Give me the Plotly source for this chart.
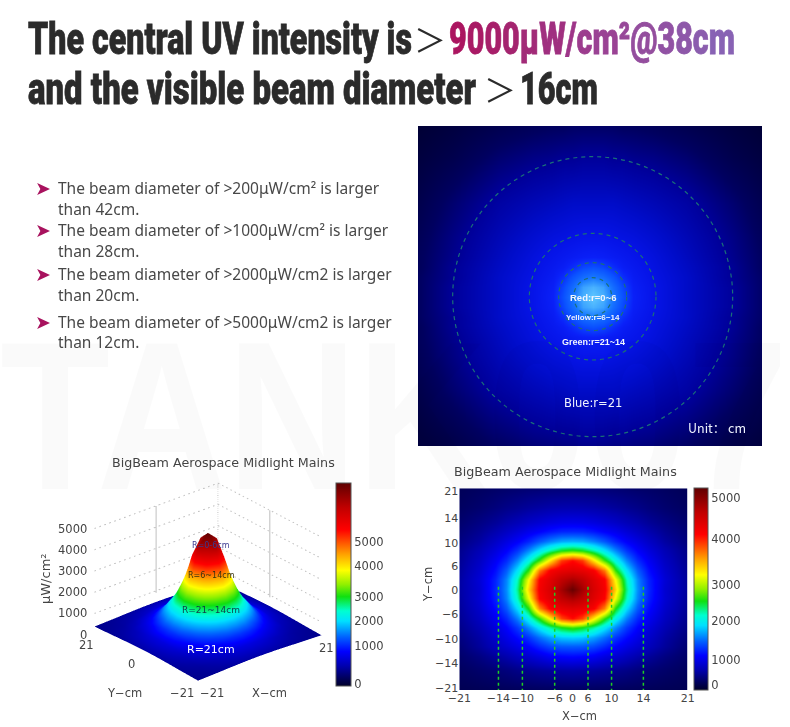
import numpy as np
import plotly.graph_objects as go

W, H = 790, 727
FONT = "DejaVu Sans"
BODY = "Noto Sans"
HEAD = "Roboto"
DARK = "#2b2b2b"

# ---------- text ----------
WATERMARK = "TANK007"
TITLE_1 = "The central UV intensity is"
TITLE_HI = "9000μW/cm²@38cm"
TITLE_2 = "and the visible beam diameter"
TITLE_3 = "16cm"
BULLETS = [
    ("The beam diameter of >200μW/cm² is larger", "than 42cm.", 188, 209),
    ("The beam diameter of >1000μW/cm² is larger", "than 28cm.", 230, 251),
    ("The beam diameter of >2000μW/cm2 is larger", "than 20cm.", 274, 295),
    ("The beam diameter of >5000μW/cm2 is larger", "than 12cm.", 322, 342),
]
CHART_TITLE = "BigBeam Aerospace Midlight Mains"

COLORS_JET = [[0, "#00002a"], [.03, "#000050"], [.1, "#0000b0"], [.17, "#0000ff"], [.24, "#0060ff"],
              [.32, "#00e0ff"], [.37, "#00ffd0"], [.44, "#10e010"], [.5, "#90f000"], [.57, "#ffff00"],
              [.65, "#ffa000"], [.77, "#ff0000"], [.88, "#c00000"], [1, "#600000"]]

# ---------- 2-D map (bottom right) ----------
MAP_HALF_X = [0, 2, 4, 6, 8, 10, 12, 14, 17, 21]
MAP_CENTRE_X = -0.3
MAP_Y = [21, 17, 14, 12, 10, 8, 6, 4, 2, 0, -2, -4, -6, -8, -10, -12, -14, -17, -21]
# one row per MAP_Y value, read outward from the beam centre along MAP_HALF_X
MAP_ROWS = [
    [320, 318, 315, 305, 295, 280, 265, 250, 225, 190],
    [530, 525, 510, 480, 450, 410, 375, 330, 275, 220],
    [800, 790, 750, 695, 640, 570, 510, 440, 360, 265],
    [1050, 1040, 980, 890, 810, 710, 620, 530, 415, 300],
    [1550, 1520, 1400, 1240, 1040, 880, 760, 640, 480, 335],
    [2400, 2300, 2050, 1730, 1400, 1100, 890, 740, 560, 380],
    [4050, 3850, 3150, 2430, 1860, 1400, 1060, 850, 620, 405],
    [4350, 4290, 4150, 3600, 2400, 1730, 1260, 950, 670, 430],
    [4800, 4650, 4370, 4120, 3000, 2000, 1400, 1030, 710, 450],
    [5250, 4850, 4450, 4180, 3200, 2100, 1430, 1050, 690, 460],
    [4800, 4650, 4370, 4100, 2950, 2000, 1390, 1020, 700, 445],
    [4350, 4290, 4130, 3550, 2350, 1700, 1240, 940, 660, 425],
    [4050, 3800, 3100, 2400, 1830, 1380, 1050, 840, 610, 400],
    [2450, 2330, 2080, 1750, 1420, 1120, 900, 740, 550, 370],
    [1650, 1620, 1500, 1320, 1100, 930, 790, 660, 490, 330],
    [1250, 1240, 1180, 1050, 900, 780, 680, 590, 450, 290],
    [920, 900, 850, 760, 680, 600, 520, 450, 350, 250],
    [480, 470, 450, 430, 400, 370, 330, 300, 260, 210],
    [220, 220, 215, 210, 205, 200, 195, 190, 180, 170],
]
MAP_XTICKS = [-21, -13.8, -9.4, -3.46, -0.2, 2.67, 7, 12.85, 21]
MAP_XLABELS = ["−21", "−14", "−10", "−6", "0", "6", "10", "14", "21"]
MAP_YTICKS = [20.4, 14.8, 9.5, 4.8, -0.2, -5.2, -10.4, -15.5, -20.7]
MAP_YLABELS = ["21", "14", "10", "6", "0", "−6", "−10", "−14", "−21"]
MAP_GUIDES = [-13.8, -9.4, -3.46, 2.67, 7, 12.85]
MAP_BAR_TICKS = [132, 790, 1823, 2761, 3960, 5036]
BAR_LABELS = ["0", "1000", "2000", "3000", "4000", "5000"]

# ---------- 3-D surface (bottom left) ----------
SURF_NODES = [0, 3, 5, 7, 9, 11, 13, 16, 21]
SURF_QUADRANT = [
    [5000, 4600, 3550, 2550, 1850, 1450, 1050, 720, 480],
    [4600, 3900, 3000, 2300, 1750, 1380, 1000, 700, 475],
    [3550, 3000, 2520, 1980, 1600, 1220, 920, 670, 470],
    [2550, 2300, 1980, 1670, 1380, 1050, 820, 630, 460],
    [1850, 1750, 1600, 1380, 1110, 880, 740, 580, 450],
    [1450, 1380, 1220, 1050, 880, 760, 670, 540, 440],
    [1050, 1000, 920, 820, 740, 670, 580, 500, 425],
    [720, 700, 670, 630, 580, 540, 500, 450, 410],
    [480, 475, 470, 460, 450, 440, 425, 410, 385],
]
SURF_BAR_TICKS = [40, 985, 1600, 2200, 2950, 3550]
Z_LEVELS = [1000, 2000, 3000, 4000, 5000]

# ---------- beam picture (top right) ----------
BEAM_NODES = [0, 1.5, 3, 4.5, 6, 9, 14, 21, 26]
BEAM_QUADRANT = [
    [100, 93, 75, 58, 44, 36, 28, 18, 10],
    [93, 88, 70, 55, 43, 36, 28, 18, 10],
    [75, 70, 60, 48, 41, 35, 28, 17, 10],
    [58, 55, 48, 42, 39, 34, 27, 17, 9],
    [44, 43, 41, 39, 37, 33, 26, 16, 9],
    [36, 36, 35, 34, 33, 30, 24, 15, 8],
    [28, 28, 28, 27, 26, 24, 20, 12, 6],
    [18, 18, 17, 17, 16, 15, 12, 6, 3],
    [10, 10, 10, 9, 9, 8, 6, 3, 1],
]
BEAM_COLORS = [[0, "#000030"], [.1, "#000060"], [.18, "#00009a"], [.28, "#000cc8"], [.36, "#0614e8"],
               [.44, "#0a20f8"], [.58, "#0a50ff"], [.75, "#1878ff"], [.9, "#40a8ff"], [1, "#60c8ff"]]
RING_RADII = [21, 9.5, 5.1, 2.85]
BEAM_LABELS = [("Red:r=0~6", 593, 297, 9.5), ("Yellow:r=6~14", 593, 317, 8),
               ("Green:r=21~14", 593, 342, 9), ("Blue:r=21", 593, 403, 11.5)]


def mirror(nodes, quad):
    q = np.array(quad)
    full = np.vstack([q[:0:-1], q])
    full = np.hstack([full[:, :0:-1], full])
    axis = [-v for v in nodes[:0:-1]] + list(nodes)
    return axis, full


def pos(px, py):
    return dict(x=px / W, y=1 - py / H, xref="paper", yref="paper")


def note(text, px, py, size=12, color="#444", font=FONT, xanchor="center", weight=None, **kw):
    f = dict(size=size, color=color, family=font)
    if weight:
        f["weight"] = weight
    return dict(text=text, showarrow=False, xanchor=xanchor, yanchor="middle", font=f, **pos(px, py), **kw)


fig = go.Figure()

bx, bz = mirror(BEAM_NODES, BEAM_QUADRANT)
fig.add_trace(go.Heatmap(x=bx, y=bx, z=bz, zmin=0, zmax=100, colorscale=BEAM_COLORS, zsmooth="best",
                         showscale=False, hoverinfo="skip", xaxis="x3", yaxis="y3"))

map_x = [MAP_CENTRE_X - v for v in MAP_HALF_X[:0:-1]] + [MAP_CENTRE_X + v for v in MAP_HALF_X]
map_z = [row[:0:-1] + row for row in MAP_ROWS]
fig.add_trace(go.Heatmap(x=map_x, y=MAP_Y, z=map_z, zmin=0, zmax=5300, colorscale=COLORS_JET, zsmooth="best",
                         hoverinfo="skip", xaxis="x2", yaxis="y2",
                         colorbar=dict(x=694 / W, xanchor="left", xpad=0, ypad=0, y=1 - 690 / H, yanchor="bottom",
                                       len=202 / H, thickness=14, outlinecolor="#555", outlinewidth=1,
                                       tickvals=MAP_BAR_TICKS, ticktext=BAR_LABELS, ticks="",
                                       tickfont=dict(size=11.5, color="#444", family=FONT))))
for gx in MAP_GUIDES:
    fig.add_trace(go.Scatter(x=[gx, gx], y=[0.5, -21], mode="lines", hoverinfo="skip", showlegend=False,
                             line=dict(color="#20d020", width=1.5, dash="dot"), xaxis="x2", yaxis="y2"))

sx, sz = mirror(SURF_NODES, SURF_QUADRANT)
fig.add_trace(go.Surface(x=sx, y=sx, z=sz, cmin=0, cmax=5000, colorscale=COLORS_JET, hoverinfo="skip",
                         lighting=dict(ambient=1, diffuse=0, specular=0, roughness=1, fresnel=0),
                         colorbar=dict(x=336 / W, xanchor="left", xpad=0, ypad=0, y=1 - 686 / H, yanchor="bottom",
                                       len=203 / H, thickness=15, outlinecolor="#555", outlinewidth=1,
                                       tickvals=SURF_BAR_TICKS, ticktext=BAR_LABELS, ticks="",
                                       tickfont=dict(size=11.5, color="#444", family=FONT))))
for lv in Z_LEVELS:
    fig.add_trace(go.Scatter3d(x=[-21, 21, 21], y=[21, 21, -21], z=[lv, lv, lv], mode="lines", hoverinfo="skip",
                               showlegend=False, line=dict(color="#c4c4c4", width=2, dash="dash")))
fig.add_trace(go.Scatter3d(x=[21, 21], y=[21, 21], z=[0, 5000], mode="lines", hoverinfo="skip", showlegend=False,
                           line=dict(color="#c4c4c4", width=2, dash="dash")))
fig.add_trace(go.Scatter3d(x=[0, 0], y=[21, 21], z=[900, 5000], mode="lines", hoverinfo="skip", showlegend=False,
                           line=dict(color="#cccccc", width=2.5)))
fig.add_trace(go.Scatter3d(x=[21, 21], y=[0, 0], z=[900, 5000], mode="lines", hoverinfo="skip", showlegend=False,
                           line=dict(color="#cccccc", width=2.5)))


def scene_note(text, x, y, z, dx=0, dy=0, size=11.5, color="#444", xanchor="center"):
    return dict(text=text, x=x, y=y, z=z, xshift=dx, yshift=dy, showarrow=False, xanchor=xanchor, yanchor="middle",
                font=dict(size=size, color=color, family=FONT))


scene_notes = [scene_note(str(v), -21, 21, v, dx=-5, xanchor="right") for v in [0] + Z_LEVELS]
scene_notes += [
    scene_note("21", -21, 21, 0, dx=-8, dy=-10), scene_note("0", -21, 0, 0, dx=-15, dy=-2),
    scene_note("−21", -21, -21, 0, dx=-16, dy=-4), scene_note("−21", -21, -21, 0, dx=14, dy=-4),
    scene_note("21", 21, -21, 0, dx=5, dy=-5),
    scene_note("R=0-6cm", 0, 0, 4400, dx=3, size=8, color="#3a3a90"),
    scene_note("R=6~14cm", 0, 0, 3000, dx=3, size=8, color="#3a3410"),
    scene_note("R=21~14cm", 0, 0, 1380, dx=3, size=9, color="#12404a"),
    scene_note("R=21cm", -4.4, -4.4, 0, dx=5, size=11, color="#ffffff"),
]

annots = []
annots.append(note(WATERMARK, -2, 415, size=212, color="rgba(0,0,0,0.02)", font="Liberation Sans", xanchor="left",
                   weight=700))
annots.append(note(TITLE_1, 26, 38, size=45, color=DARK, font=HEAD, xanchor="left", weight=900))
annots.append(note("＞", 430, 38, size=32, color=DARK, font="Noto Sans CJK SC"))
grad = ["#ab1560", "#a91a65", "#a71f6a", "#a4246f", "#a22b78", "#a03080", "#9e3588", "#9c3c8e", "#9a4294",
        "#974899", "#944e9e", "#9152a4", "#8e58a9", "#8b5dae", "#8862b4"]
hi = "".join(f'<span style="color:{c}">{ch}</span>' for ch, c in zip(TITLE_HI, grad))
annots.append(note(hi, 447, 38, size=45, font=HEAD, xanchor="left", weight=900))
annots.append(note(TITLE_2, 26, 88, size=45, color=DARK, font=HEAD, xanchor="left", weight=900))
annots.append(note("＞", 500, 88, size=32, color=DARK, font="Noto Sans CJK SC"))
annots.append(note(TITLE_3, 518, 88, size=45, color=DARK, font=HEAD, xanchor="left", weight=900))

for first, second, y1, y2 in BULLETS:
    annots.append(note("➤", 43, y1, size=19, color="#a8125e", font="DejaVu Sans"))
    annots.append(note(first, 56, y1, size=15.5, color="#484848", font=BODY, xanchor="left"))
    annots.append(note(second, 56, y2, size=15.5, color="#484848", font=BODY, xanchor="left"))

for text, px, py, size in BEAM_LABELS:
    fam = "Liberation Sans" if size < 11 else FONT
    annots.append(note(text, px, py, size=size, color="#f0f4ff", font=fam, weight=600 if size < 11 else None))
annots.append(note("Unit： cm", 748, 427, size=12.5, color="#f0f4ff", font="Noto Sans CJK SC", xanchor="right"))

annots.append(note(CHART_TITLE, 223.5, 462, size=12.7, color="#444"))
annots.append(note(CHART_TITLE, 565.5, 471, size=12.7, color="#444"))
annots.append(note("X−cm", 579, 716, size=11.5))
annots.append(note("Y−cm", 428, 585, size=11.5, textangle=-90))
annots.append(note("X−cm", 269, 693, size=11.5))
annots.append(note("Y−cm", 124, 693, size=11.5))
annots.append(note("μW/cm²", 45, 579, size=13, textangle=-90))

shapes = [dict(type="circle", xref="x3", yref="y3", x0=-r, x1=r, y0=-r, y1=r,
               line=dict(color="#1a6f78", width=1.2, dash="4px,4px")) for r in RING_RADII]

a_rad = np.radians(40)
el = np.radians(26)
D = 3.0
tickf = dict(size=11, color="#444", family=FONT)
fig.update_layout(
    width=W, height=H, margin=dict(l=0, r=0, t=0, b=0, autoexpand=False), paper_bgcolor="white", plot_bgcolor="white",
    showlegend=False, annotations=annots, shapes=shapes,
    xaxis2=dict(domain=[459.3 / W, 687.7 / W], range=[-21, 21], tickvals=MAP_XTICKS, ticktext=MAP_XLABELS, tickangle=0,
                showgrid=False, zeroline=False, ticks="", tickfont=tickf, anchor="y2"),
    yaxis2=dict(domain=[1 - 690 / H, 1 - 488.3 / H], range=[-21, 21], tickvals=MAP_YTICKS, ticktext=MAP_YLABELS,
                showgrid=False, zeroline=False, ticks="", tickfont=tickf, anchor="x2"),
    xaxis3=dict(domain=[418 / W, 762 / W], range=[-26.2, 25.4], visible=False, anchor="y3"),
    yaxis3=dict(domain=[1 - 446 / H, 1 - 126 / H], range=[-22.4, 25.6], visible=False, anchor="x3"),
    scene=dict(domain=dict(x=[61 / W, 355 / W], y=[1 - 713 / H, 1 - 459 / H]),
               xaxis=dict(visible=False, range=[-21, 21]), yaxis=dict(visible=False, range=[-21, 21]),
               zaxis=dict(visible=False, range=[0, 5000]),
               aspectmode="manual", aspectratio=dict(x=1.27, y=1.27, z=0.93),
               camera=dict(projection=dict(type="orthographic"), up=dict(x=0, y=0, z=1), center=dict(x=0, y=0, z=0),
                           eye=dict(x=-np.sin(a_rad) * np.cos(el) * D, y=-np.cos(a_rad) * np.cos(el) * D,
                                    z=np.sin(el) * D)),
               annotations=scene_notes),
)

# Condense the headline texts to the reference's widths (real text, horizontally scaled) and drop the page margin.
POST = """
document.body.style.margin = '0';
var widths = {'%s': 384, '%s': 286, '%s': 448, '%s': 78, '%s': 788};
document.querySelectorAll('.annotation text.annotation-text').forEach(function (t) {
  var w = widths[t.textContent];
  if (!w) return;
  var bb = t.getBBox();
  var s = w / bb.width;
  t.setAttribute('transform', 'translate(' + bb.x + ',0) scale(' + s + ',1) translate(' + (-bb.x) + ',0)');
  if (w === 788) return;
  [t].concat(Array.from(t.querySelectorAll('tspan'))).forEach(function (e) {
    var c = e.style.fill || getComputedStyle(e).fill;
    e.style.stroke = c; e.style.strokeWidth = '0.8px';
  });
});
""" % (TITLE_1, TITLE_HI, TITLE_2, TITLE_3, WATERMARK)
fig.write_html("out.html", post_script=POST, config=dict(displayModeBar=False))
